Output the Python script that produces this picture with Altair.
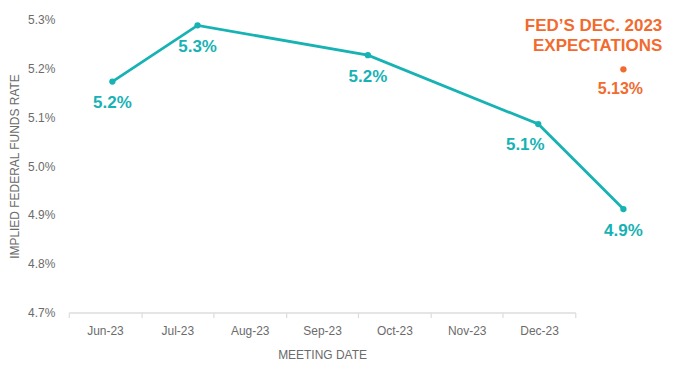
import altair as alt
import pandas as pd

# ---- data ----
months = ["Jun-23", "Jul-23", "Aug-23", "Sep-23", "Oct-23", "Nov-23", "Dec-23"]
meeting_months = ["Jun-23", "Jul-23", "Sep-23", "Nov-23", "Dec-23"]
implied_rate = [5.173, 5.288, 5.227, 5.086, 4.912]
rate_labels = ["5.2%", "5.3%", "5.2%", "5.1%", "4.9%"]

fed_month = "Dec-23"
fed_value = 5.198
fed_label = "5.13%"
fed_title = ["FED\u2019S DEC. 2023", "EXPECTATIONS"]

y_ticks = [4.7, 4.8, 4.9, 5.0, 5.1, 5.2, 5.3]

TEAL = "#17b2b4"
ORANGE = "#f26a2e"
GRAY = "#6b6b6b"
FONT = "Liberation Sans"

# ---- tables ----
axis_df = pd.DataFrame({"month": months})
line_df = pd.DataFrame({
    "month": meeting_months,
    "idx": [months.index(m) for m in meeting_months],
    "rate": implied_rate,
    "label": rate_labels,
})
fed_df = pd.DataFrame({
    "month": [fed_month],
    "idx": [months.index(fed_month)],
    "rate": [fed_value],
    "label": [fed_label],
    "t1": [fed_title[0]],
    "t2": [fed_title[1]],
})

W, H = 508, 294

# band axis layer (category axis with ticks between bands)
axis_layer = alt.Chart(axis_df).mark_tick(opacity=0).encode(
    x=alt.X("month:N", sort=months,
            scale=alt.Scale(paddingInner=0, paddingOuter=0),
            axis=alt.Axis(title="MEETING DATE", tickBand="extent",
                          domainColor="#dcdcdc", domainWidth=1.5,
                          tickColor="#dcdcdc", tickWidth=1.2, tickSize=5,
                          labelAngle=0, labelFontSize=12, labelColor=GRAY,
                          labelFont=FONT, labelPadding=8,
                          titleFont=FONT, titleFontSize=12, titleColor=GRAY,
                          titleFontWeight="normal", titlePadding=13)),
)

xq = alt.X("idx:Q", scale=alt.Scale(domain=[-0.5115, 5.435], nice=False, zero=False),
           axis=None)
yq = alt.Y("rate:Q",
           scale=alt.Scale(domain=[4.7, 5.3], nice=False, zero=False),
           axis=alt.Axis(title="IMPLIED FEDERAL FUNDS RATE", values=y_ticks,
                         labelExpr="format(datum.value, '.1f') + '%'",
                         grid=False, domain=False, ticks=False,
                         labelFontSize=12, labelColor=GRAY, labelFont=FONT,
                         labelPadding=14,
                         titleFont=FONT, titleFontSize=12, titleColor=GRAY,
                         titleFontWeight="normal", titlePadding=6))

base = alt.Chart(line_df)
line = base.mark_line(color=TEAL, strokeWidth=2.8).encode(x=xq, y=yq)
pts = base.mark_circle(color=TEAL, size=40, opacity=1).encode(x=xq, y=yq)
lbl = base.mark_text(color=TEAL, font=FONT, fontSize=17, fontWeight="bold",
                     baseline="middle", dy=22).encode(
    x=xq, y=yq, text="label:N").transform_filter(alt.datum.month != "Nov-23")
lbl_nov = base.mark_text(color=TEAL, font=FONT, fontSize=17, fontWeight="bold",
                         baseline="middle", dy=21, dx=-13).encode(
    x=xq, y=yq, text="label:N").transform_filter(alt.datum.month == "Nov-23")

fbase = alt.Chart(fed_df)
fpt = fbase.mark_circle(color=ORANGE, size=40, opacity=1).encode(x=xq, y=yq)
flbl = fbase.mark_text(color=ORANGE, font=FONT, fontSize=16, fontWeight="bold",
                       baseline="middle", dy=20, dx=-3).encode(
    x=xq, y=yq, text="label:N")
ft1 = fbase.mark_text(color=ORANGE, font=FONT, fontSize=17, fontWeight="bold",
                      baseline="middle", align="right", dy=-43, dx=39).encode(
    x=xq, y=yq, text="t1:N")
ft2 = fbase.mark_text(color=ORANGE, font=FONT, fontSize=17, fontWeight="bold",
                      baseline="middle", align="right", dy=-23, dx=39).encode(
    x=xq, y=yq, text="t2:N")

chart = alt.layer(axis_layer, line, pts, lbl, lbl_nov, fpt, flbl, ft1, ft2).resolve_scale(
    x="independent"
).properties(
    width=W, height=H,
    background="white",
    padding={"left": 0, "top": 5, "right": 5, "bottom": 5},
).configure_view(strokeWidth=0, stroke="transparent")

chart.save("out.html", embed_options={"renderer": "svg", "actions": False})
